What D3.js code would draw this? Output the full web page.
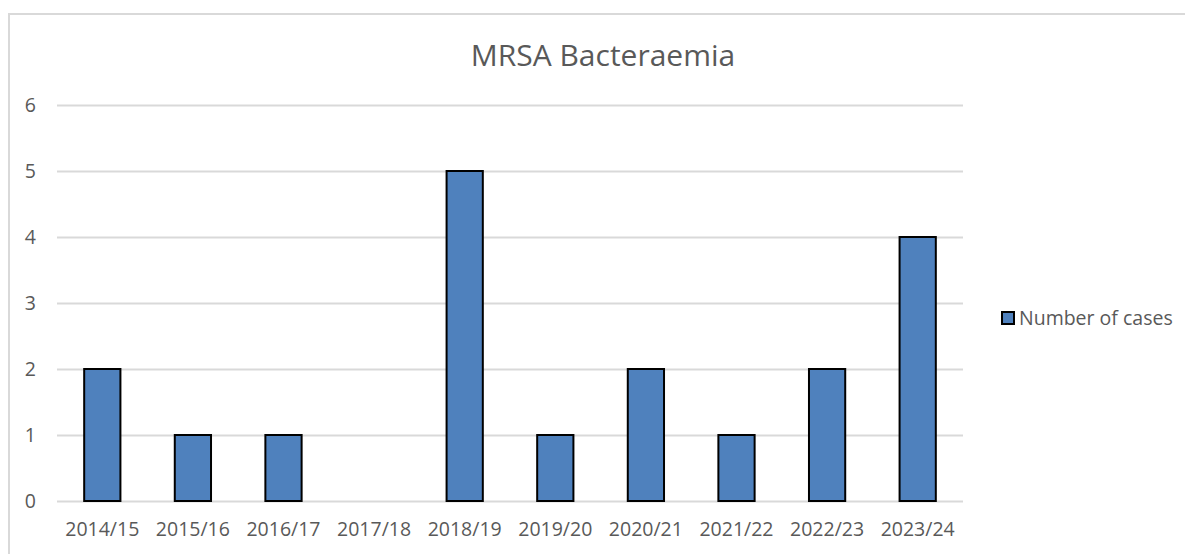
<!DOCTYPE html>
<html>
<head>
<meta charset="utf-8">
<script src="https://cdn.jsdelivr.net/npm/d3@7"></script>
<style>
  body { margin: 0; background: #fff; }
  text { font-family: "Open Sans", "DejaVu Sans", sans-serif; fill: #595959; }
</style>
</head>
<body>
<svg id="chart" width="1185" height="554"></svg>
<script>
// Dữ liệu
const categories = ["2014/15", "2015/16", "2016/17", "2017/18", "2018/19", "2019/20", "2020/21", "2021/22", "2022/23", "2023/24"];
const cases = [2, 1, 1, 0, 5, 1, 2, 1, 2, 4];
const yTicks = [0, 1, 2, 3, 4, 5, 6];
const seriesName = "Number of cases";
const title = "MRSA Bacteraemia";

const data = categories.map((c, i) => ({ nam: c, soCa: cases[i] }));

const svg = d3.select("#chart");
const margin = { left: 57, right: 222, top: 105, bottom: 53 };
const width = 1185 - margin.left - margin.right,
      height = 554 - margin.top - margin.bottom;

// Khung viền
svg.append("rect")
   .attr("x", 9).attr("y", 14)
   .attr("width", 1185).attr("height", 560)
   .attr("fill", "none")
   .attr("stroke", "#d9d9d9")
   .attr("stroke-width", 2);

const g = svg.append("g").attr("transform", `translate(${margin.left},${margin.top})`);

const x = d3.scaleBand().domain(categories).range([0, width]).paddingInner(0.6).paddingOuter(0.3);
const y = d3.scaleLinear().domain([0, 6]).range([height, 0]);

// Lưới
g.append("g")
 .call(d3.axisLeft(y).tickValues(yTicks).tickSize(-width).tickFormat(""))
 .call(s => s.select(".domain").remove())
 .call(s => s.selectAll("line").attr("stroke", "#d9d9d9").attr("stroke-width", 2));

// Nhãn trục Y
g.selectAll("text.ytick")
 .data(yTicks)
 .enter().append("text")
   .attr("class", "ytick")
   .attr("x", -21)
   .attr("y", d => y(d) + 7)
   .attr("text-anchor", "end")
   .style("font-size", "19.5px")
   .text(d => d);

// Cột
g.selectAll("rect.bar")
 .data(data.filter(d => d.soCa > 0))
 .enter().append("rect")
   .attr("class", "bar")
   .attr("x", d => x(d.nam))
   .attr("y", d => y(d.soCa))
   .attr("width", x.bandwidth())
   .attr("height", d => height - y(d.soCa))
   .attr("fill", "#4f81bd")
   .attr("stroke", "#000")
   .attr("stroke-width", 2);

// Nhãn trục X
g.selectAll("text.xtick")
 .data(categories)
 .enter().append("text")
   .attr("class", "xtick")
   .attr("x", d => x(d) + x.bandwidth() / 2)
   .attr("y", height + 35)
   .attr("text-anchor", "middle")
   .style("font-size", "19.5px")
   .text(d => d);

// Tiêu đề
svg.append("text")
   .attr("x", 603)
   .attr("y", 66)
   .attr("text-anchor", "middle")
   .style("font-size", "30px")
   .text(title);

// Chú giải
const lg = svg.append("g").attr("transform", "translate(1002,312)");
lg.append("rect")
  .attr("width", 12).attr("height", 12)
  .attr("fill", "#4f81bd").attr("stroke", "#000").attr("stroke-width", 2);
lg.append("text")
  .attr("x", 17).attr("y", 13)
  .style("font-size", "19.5px")
  .text(seriesName);
</script>
</body>
</html>
